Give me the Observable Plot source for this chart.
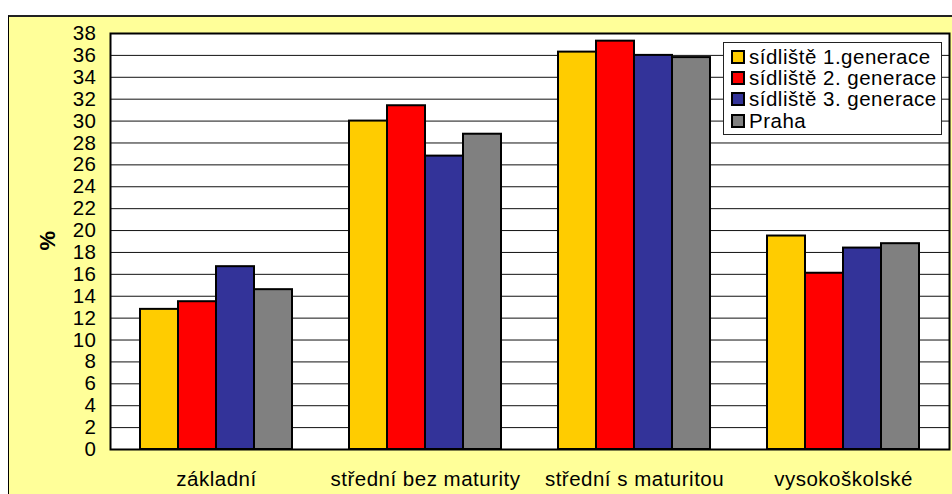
<!DOCTYPE html>
<html>
<head>
<meta charset="utf-8">
<script src="https://cdn.jsdelivr.net/npm/d3@7"></script>
<script src="https://cdn.jsdelivr.net/npm/@observablehq/plot@0.6"></script>
<style>
  html, body { margin: 0; padding: 0; background: #fff; }
  #wrap { position: relative; width: 952px; height: 494px; overflow: hidden; background: #fff;
          font-family: "Liberation Sans", Arial, sans-serif; }
  #frame { position: absolute; left: 8px; top: 15px; width: 960px; height: 500px;
           background: #FFFF99; border-left: 1px solid #000; border-top: 2px solid #222; box-sizing: border-box; }
  .layer { position: absolute; left: 0; top: 0; }
  #legend { position: absolute; left: 723px; top: 42px; width: 219px; height: 93px; box-sizing: border-box;
            background: #fff; border: 1px solid #222; padding-top: 3px; }
  #legend .row { display: flex; align-items: center; height: 21.3px; font-size: 20.5px; letter-spacing: 0.5px; color: #000; white-space: nowrap; }
  #legend .sw { width: 10px; height: 10px; border: 2px solid #000; margin-left: 7px; margin-right: 4px; flex: none; }
</style>
</head>
<body>
<div id="wrap">
  <div id="frame"></div>
  <div id="a" class="layer"></div>
  <div id="b" class="layer"></div>
  <div id="legend"></div>
</div>
<script>
const categories = ["základní", "střední bez maturity", "střední s maturitou", "vysokoškolské"];
const series = ["sídliště 1.generace", "sídliště 2. generace", "sídliště 3. generace", "Praha"];
const colors = ["#FFCC00", "#FF0000", "#333399", "#808080"];
const gen1 = [12.8, 30.0, 36.3, 19.5];
const gen2 = [13.5, 31.4, 37.3, 16.1];
const gen3 = [16.7, 26.8, 36.0, 18.4];
const praha = [14.6, 28.8, 35.8, 18.8];
const yTicks = [0, 2, 4, 6, 8, 10, 12, 14, 16, 18, 20, 22, 24, 26, 28, 30, 32, 34, 36, 38];
const yLabel = "%";

const values = [gen1, gen2, gen3, praha];
const data = [];
categories.forEach((c, i) => series.forEach((s, j) => data.push({cat: c, series: s, value: values[j][i]})));

const dims = {width: 952, height: 494, marginLeft: 110, marginRight: 3, marginTop: 33, marginBottom: 45};
const style = {fontFamily: "'Liberation Sans', Arial, sans-serif", fontSize: "20.5px", letterSpacing: "0.5px",
               background: "transparent", color: "#000", overflow: "visible"};

const A = Plot.plot({
  ...dims, style,
  y: {domain: [0, 38], ticks: yTicks, tickSize: 0, tickPadding: 14, label: null},
  marks: [
    Plot.frame({fill: "white"}),
    Plot.ruleY(yTicks, {stroke: "#111", strokeWidth: 1}),
    Plot.frame({stroke: "black", strokeWidth: 2}),
    Plot.text([yLabel], {frameAnchor: "left", dx: -63, dy: 9, rotate: -90, fontWeight: "bold", fontSize: 22,
                         fill: "#000", text: d => d})
  ]
});
document.getElementById("a").appendChild(A);

const B = Plot.plot({
  ...dims, style,
  fx: {domain: categories, paddingInner: 0.265, paddingOuter: 0.1325, label: null, axis: "bottom", tickSize: 0, tickPadding: 22},
  x: {domain: series, padding: 0, axis: null},
  y: {domain: [0, 38], axis: null},
  color: {domain: series, range: colors},
  marks: [
    Plot.barY(data, {fx: "cat", x: "series", y: "value", fill: "series", stroke: "black", strokeWidth: 2})
  ]
});
document.getElementById("b").appendChild(B);

const legend = document.getElementById("legend");
series.forEach((s, j) => {
  const row = document.createElement("div");
  row.className = "row";
  const sw = document.createElement("span");
  sw.className = "sw";
  sw.style.background = colors[j];
  const t = document.createElement("span");
  t.textContent = s;
  row.appendChild(sw);
  row.appendChild(t);
  legend.appendChild(row);
});
</script>
</body>
</html>
